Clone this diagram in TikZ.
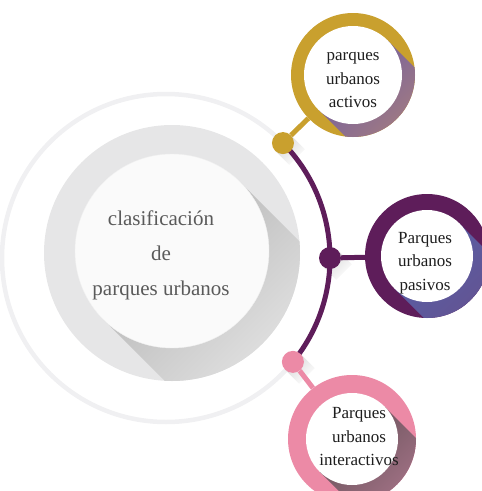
\documentclass[tikz,border=0pt]{standalone}
\usepackage{fontspec}
\setmainfont{Liberation Serif}
\usetikzlibrary{calc}
\definecolor{gold}{HTML}{C9A02E}
\definecolor{plum}{HTML}{5E1D5A}
\definecolor{rose}{HTML}{EC8AA6}
\definecolor{ringgray}{HTML}{F0F0F2}
\definecolor{diskgray}{HTML}{E6E6E7}
\definecolor{centertext}{HTML}{5A5A5A}
\definecolor{sattext}{HTML}{1E1E1E}
\definecolor{shpurple}{HTML}{6F5CA2}
\definecolor{shmauve}{HTML}{B08478}
\definecolor{shblue}{HTML}{5760A8}
\definecolor{shblueb}{HTML}{66508C}
\definecolor{shdark}{HTML}{665058}
\definecolor{shdarkb}{HTML}{B07A90}
\pgfdeclarelayer{back}
\pgfdeclarelayer{mid}
\pgfsetlayers{back,mid,main}
\tikzset{
  dotnode/.style={circle, inner sep=0pt, minimum size=22pt},
  satouter/.style={circle, inner sep=0pt},
  satinner/.style={circle, inner sep=0pt, fill=white},
  sattextstyle/.style={align=center, text=sattext, inner sep=0pt, font=\fontsize{17}{23.5}\selectfont},
  link/.style={line width=5pt},
  dotshadow/.style={top color=black!16, bottom color=white, shading angle=45},
}
\begin{document}
\begin{tikzpicture}[x=1pt,y=-1pt]
\useasboundingbox (0,0) rectangle (482,491);
\coordinate (rc) at (166,258);

% central disc group
\begin{pgfonlayer}{back}
  \draw[ringgray, line width=4.5pt] (rc) circle[radius=164];
  \fill[diskgray] (172,253) circle[radius=128];
  \begin{scope}
    \clip (172,253) circle[radius=128];
    \shade[top color=black!30, bottom color=black!8, shading angle=45]
      (240.6,182.4) -- (103.4,319.6) -- (202.4,418.6) -- (339.6,281.4) -- cycle;
  \end{scope}
\end{pgfonlayer}
\node[circle, inner sep=0pt, minimum size=194pt, fill=white!98!black, draw=black!6] (main) at (172,251) {};
\node[align=center, text=centertext, font=\fontsize{21}{35}\selectfont] (maintext) at (161,255)
  {clasificación\\de\\parques urbanos};

% dots on the ring
\node[dotnode, fill=gold] (gd) at ($(rc)+(-44.5:164)$) {};
\node[dotnode, fill=plum] (pd) at ($(rc)+(0:164)$) {};
\node[dotnode, fill=rose] (rd) at ($(rc)+(39.3:164)$) {};

% soft shadows of the dots
\begin{pgfonlayer}{back}
  \foreach \d in {gd,pd,rd}{
    \shade[dotshadow] ($(\d.center)+(7.8,-7.8)$) -- ($(\d.center)+(-7.8,7.8)$)
      -- ($(\d.center)+(6.3,21.9)$) -- ($(\d.center)+(21.9,6.3)$) -- cycle;
  }
\end{pgfonlayer}

% satellite: activos
\node[satouter, fill=gold, minimum size=124pt] (gs) at (353,75) {};
\begin{scope}
  \clip (353,75) circle[radius=62];
  \shade[top color=shpurple, bottom color=shmauve, shading angle=45]
    (387.6,40.4) -- (318.4,109.6) -- (373.4,164.6) -- (442.6,95.4) -- cycle;
\end{scope}
\node[satinner, minimum size=98pt] (gsi) at (353,75) {};
\node[sattextstyle] (gst) at (353,80) {parques\\urbanos\\activos};

% satellite: pasivos
\node[satouter, fill=plum, minimum size=124pt] (ps) at (427,256) {};
\begin{scope}
  \clip (427,256) circle[radius=62];
  \shade[top color=shblue, bottom color=shblueb, shading angle=45]
    (459.5,223.5) -- (394.5,288.5) -- (449.5,343.5) -- (514.5,278.5) -- cycle;
\end{scope}
\node[satinner, minimum size=92pt] (psi) at (427,256) {};
\node[sattextstyle] (pst) at (425,263) {Parques\\urbanos\\pasivos};

% satellite: interactivos
\node[satouter, fill=rose, minimum size=128pt] (rs) at (352,439) {};
\begin{scope}
  \clip (352,439) circle[radius=64];
  \shade[top color=shdark, bottom color=shdarkb, shading angle=45]
    (384.5,406.5) -- (319.5,471.5) -- (374.5,526.5) -- (439.5,461.5) -- cycle;
\end{scope}
\node[satinner, minimum size=92pt] (rsi) at (352,439) {};
\node[sattextstyle] (rst) at (359,437) {Parques\\urbanos\\interactivos};

% connectors and ring arc
\begin{pgfonlayer}{mid}
  \draw[plum, line width=5pt] (gd.center) arc[start angle=-44.5, end angle=39.3, radius=164];
  \draw[gold, link] (gd) -- (gs);
  \draw[plum, link] (pd) -- (ps);
  \draw[rose, link] (rd) -- (rs);
\end{pgfonlayer}
\end{tikzpicture}
\end{document}
